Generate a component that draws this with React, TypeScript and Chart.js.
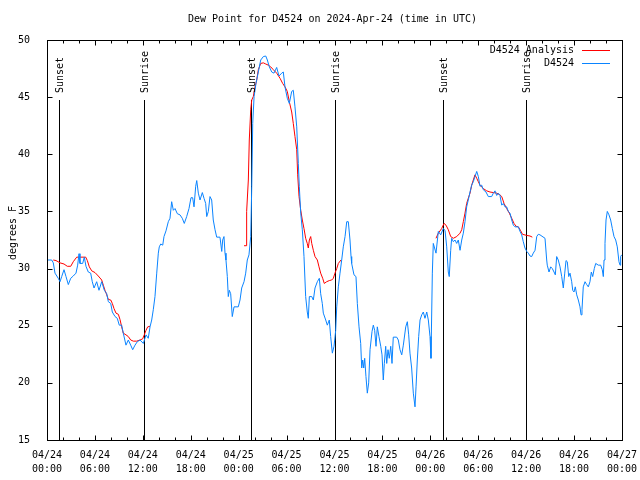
import React, { useEffect, useRef } from "react";
import { Chart, registerables } from "chart.js";

Chart.register(...registerables);

const TITLE = "Dew Point for D4524 on 2024-Apr-24 (time in UTC)";
const Y_TITLE = "degrees F";
const SERIES_ANALYSIS = "D4524 Analysis";
const SERIES_OBS = "D4524";

// x tick labels (every 6 hours from 04/24 00:00 UTC)
const tickDates = ["04/24", "04/24", "04/24", "04/24", "04/25", "04/25", "04/25", "04/25", "04/26", "04/26", "04/26", "04/26", "04/27"];
const tickTimes = ["00:00", "06:00", "12:00", "18:00", "00:00", "06:00", "12:00", "18:00", "00:00", "06:00", "12:00", "18:00", "00:00"];
const yTicks = [15, 20, 25, 30, 35, 40, 45, 50];

// sunrise / sunset markers (hours since 04/24 00:00 UTC)
const eventHours = [1.5, 12.1, 25.5, 36.0, 49.6, 60.0];
const eventNames = ["Sunset", "Sunrise", "Sunset", "Sunrise", "Sunset", "Sunrise"];
const eventTopValue = 44.75;

// observed dew point (hours since start, deg F)
const obsHours = [
  0.04, 0.59, 0.79, 1.0, 1.41, 1.63, 1.84, 2.13, 2.38, 2.67, 2.97, 3.29, 3.63, 3.84, 4.01, 4.13, 4.47, 4.67, 4.88, 5.17,
  5.47, 5.67, 5.89, 6.22, 6.51, 6.85, 7.18, 7.48, 7.68, 7.98, 8.18, 8.52, 8.8, 9.05, 9.35, 9.55, 9.89, 10.18, 10.48, 10.73,
  11.02, 11.31, 11.65, 12.06, 12.4, 12.68, 12.9, 13.11, 13.31, 13.52, 13.74, 13.94, 14.06, 14.24, 14.49, 14.65, 14.9, 15.19, 15.4, 15.61,
  15.82, 16.03, 16.32, 16.65, 16.94, 17.19, 17.49, 17.78, 18.03, 18.24, 18.41, 18.62, 18.75, 18.95, 19.16, 19.45, 19.66, 19.87, 20.0, 20.2,
  20.41, 20.62, 20.82, 21.04, 21.25, 21.66, 21.88, 22.0, 22.16, 22.29, 22.41, 22.58, 22.7, 22.83, 23.0, 23.2, 23.42, 23.95, 24.17, 24.38,
  24.67, 24.88, 25.08, 25.29, 25.51, 25.64, 25.76, 25.93, 26.17, 26.46, 26.76, 27.09, 27.39, 27.59, 27.84, 28.14, 28.42, 28.76, 29.05, 29.39,
  29.59, 29.8, 30.09, 30.34, 30.64, 30.84, 31.05, 31.27, 31.47, 31.59, 31.77, 31.97, 32.18, 32.39, 32.59, 32.72, 32.85, 33.15, 33.35, 33.56,
  33.85, 34.1, 34.27, 34.47, 34.6, 34.9, 35.1, 35.35, 35.52, 35.73, 35.94, 36.15, 36.28, 36.48, 36.69, 36.9, 37.1, 37.32, 37.53, 37.73,
  37.94, 38.07, 38.15, 38.44, 38.69, 38.86, 39.07, 39.28, 39.41, 39.53, 39.66, 39.78, 39.94, 40.11, 40.28, 40.45, 40.7, 40.86, 41.03, 41.2,
  41.36, 41.57, 41.79, 41.95, 42.11, 42.24, 42.41, 42.54, 42.7, 42.86, 43.04, 43.2, 43.36, 43.79, 43.99, 44.2, 44.42, 44.62, 44.92, 45.12,
  45.29, 45.45, 45.66, 45.87, 46.08, 46.21, 46.37, 46.54, 46.71, 46.92, 47.12, 47.33, 47.55, 47.75, 47.96, 48.08, 48.25, 48.37, 48.71, 49.0,
  49.3, 49.62, 49.84, 50.05, 50.25, 50.37, 50.55, 50.67, 50.88, 51.09, 51.3, 51.5, 51.72, 51.93, 52.13, 52.34, 52.55, 52.75, 52.97, 53.18,
  53.38, 53.59, 53.81, 54.01, 54.22, 54.43, 54.63, 54.97, 55.26, 55.68, 55.89, 56.1, 56.31, 56.51, 56.72, 56.94, 57.14, 57.35, 57.56, 57.76,
  57.98, 58.19, 58.39, 58.6, 59.02, 59.23, 59.44, 59.64, 59.85, 60.07, 60.27, 60.48, 60.69, 60.89, 61.11, 61.32, 61.52, 61.73, 62.36, 62.57,
  62.64, 62.86, 63.07, 63.27, 63.49, 63.65, 63.82, 64.02, 64.24, 64.45, 64.65, 64.83, 64.99, 65.15, 65.33, 65.49, 65.7, 65.83, 65.99, 66.15,
  66.33, 66.53, 66.74, 66.87, 66.99, 67.15, 67.37, 67.58, 67.78, 67.99, 68.16, 68.33, 68.53, 68.71, 69.03, 69.33, 69.53, 69.66, 69.75, 69.87,
  70.0, 70.16, 70.37, 70.58, 70.79, 71.0, 71.21, 71.41, 71.62, 71.75, 71.83, 71.96
];
const obsDew = [
  30.75, 30.75, 30.5, 29.6, 29.15, 28.85, 29.3, 29.9, 29.3, 28.6, 29.15, 29.35, 29.6, 30.3, 31.3, 30.45, 30.45, 31.0, 30.2, 29.7,
  29.6, 28.85, 28.3, 28.85, 28.1, 28.85, 28.1, 27.8, 27.1, 26.95, 26.2, 25.8, 25.65, 25.05, 25.05, 24.35, 23.3, 23.75, 23.3, 22.9,
  23.3, 23.6, 23.75, 23.45, 24.2, 23.9, 24.9, 25.5, 26.4, 27.55, 29.6, 31.35, 31.9, 32.15, 32.05, 32.8, 33.3, 34.1, 34.4, 35.85,
  35.1, 35.25, 34.8, 34.7, 34.4, 33.95, 34.55, 35.25, 36.2, 36.2, 35.4, 37.2, 37.7, 36.6, 36.0, 36.65, 36.15, 35.7, 34.55, 35.0,
  36.3, 36.0, 34.25, 33.4, 32.75, 32.75, 31.5, 32.5, 32.8, 31.35, 30.75, 29.3, 27.55, 28.1, 27.8, 25.8, 26.65, 26.65, 27.25, 28.3,
  28.85, 29.6, 30.75, 31.2, 32.8, 37.2, 42.7, 45.05, 46.2, 47.2, 48.25, 48.55, 48.6, 48.25, 47.65, 47.2, 47.1, 47.6, 46.85, 47.1,
  47.2, 45.9, 44.9, 44.45, 45.5, 45.6, 44.15, 42.4, 39.2, 37.2, 34.85, 33.4, 31.05, 27.55, 26.2, 25.65, 27.55, 27.55, 27.25, 28.3,
  28.85, 29.15, 27.8, 26.95, 26.1, 25.5, 25.05, 25.5, 24.05, 22.6, 23.2, 24.6, 26.65, 28.4, 29.6, 30.75, 31.9, 32.8, 34.1, 34.1,
  32.5, 31.05, 30.45, 29.45, 29.3, 26.95, 24.9, 23.45, 21.3, 22.0, 21.3, 22.15, 20.55, 19.1, 20.0, 22.9, 24.5, 25.05, 24.6, 23.2,
  24.9, 24.05, 23.2, 22.45, 20.25, 21.7, 23.2, 21.7, 22.9, 22.15, 23.2, 21.7, 24.0, 24.0, 23.75, 22.9, 22.45, 23.3, 24.9, 25.35,
  24.2, 22.6, 21.3, 19.1, 17.9, 19.65, 22.0, 24.05, 25.5, 25.95, 26.2, 25.65, 26.2, 25.5, 24.05, 22.15, 29.6, 32.2, 31.35, 33.25,
  32.95, 33.5, 33.35, 31.9, 29.7, 29.3, 31.6, 32.65, 32.35, 32.5, 32.2, 32.5, 31.6, 32.5, 33.1, 34.1, 35.4, 36.0, 36.7, 37.3,
  37.6, 38.05, 38.5, 38.05, 37.2, 37.3, 36.9, 36.7, 36.3, 36.3, 36.6, 36.8, 36.4, 36.6, 36.4, 35.55, 35.7, 35.4, 35.4, 35.0,
  34.85, 34.25, 33.8, 33.65, 33.65, 33.25, 32.95, 32.35, 31.8, 31.5, 31.35, 31.1, 31.05, 31.35, 31.6, 32.8, 33.0, 32.95, 32.65, 30.75,
  30.3, 29.7, 30.15, 30.0, 29.7, 29.45, 31.05, 30.75, 30.15, 29.3, 28.3, 29.6, 30.7, 30.6, 29.3, 29.6, 28.85, 28.1, 27.95, 28.4,
  27.7, 27.25, 26.65, 25.95, 26.4, 28.4, 28.85, 28.6, 28.4, 28.85, 29.7, 29.3, 30.0, 30.45, 30.3, 30.3, 29.9, 29.3, 30.75, 32.2,
  34.25, 35.0, 34.7, 34.25, 33.5, 32.8, 32.5, 31.9, 30.6, 30.3, 31.05, 31.2
];

// analysis dew point (null marks a gap between analysis runs)
const anaHours = [
  0.79, 1.13, 1.63, 2.13, 2.54, 2.97, 3.29, 3.72, 4.85, 5.05, 5.3, 5.6, 6.01, 6.42, 6.85, 7.05, 7.26, 7.48, 7.68, 7.98,
  8.18, 8.39, 8.64, 8.93, 9.14, 9.35, 9.55, 9.89, 10.18, 10.48, 10.81, 11.23, 11.65, 11.98, 12.18, 12.4, 12.61, 12.9,
  18.0,
  24.67, 24.92, 25.0, 25.21, 25.33, 25.51, 25.64, 25.83, 26.05, 26.26, 26.46, 26.76, 27.09, 27.39, 27.71, 28.01, 28.34, 28.76, 29.18, 29.51,
  29.8, 30.09, 30.34, 30.64, 30.84, 31.05, 31.27, 31.39, 31.56, 31.77, 31.97, 32.18, 32.39, 32.59, 32.72, 32.85, 33.02, 33.15, 33.35, 33.56,
  33.85, 34.06, 34.27, 34.52, 34.72, 35.02, 35.35, 35.65, 35.85, 36.06, 36.28, 36.48, 36.81,
  42.0,
  48.71, 49.0, 49.42, 49.71, 49.96, 50.25, 50.55, 50.88, 51.3, 51.72, 51.93, 52.13, 52.34, 52.55, 52.75, 52.97, 53.18, 53.38, 53.59, 53.81,
  54.01, 54.22, 54.63, 55.06, 55.47, 55.89, 56.31, 56.72, 56.94, 57.23, 57.56, 57.89, 58.19, 58.48, 58.73, 59.02, 59.32, 59.54, 60.07, 60.48,
  60.77
];
const anaDew = [
  30.75, 30.7, 30.5, 30.4, 30.2, 30.2, 30.6, 31.0, 31.0, 30.7, 30.15, 29.8, 29.65, 29.35, 29.0, 28.55, 28.1, 27.7, 27.3, 27.25,
  26.95, 26.5, 26.1, 26.0, 25.55, 24.9, 24.35, 24.2, 24.05, 23.75, 23.65, 23.65, 23.75, 23.85, 24.2, 24.6, 24.9, 24.95,
  null,
  32.0, 32.0, 35.0, 37.75, 41.25, 43.9, 44.75, 45.05, 45.9, 46.5, 47.4, 47.95, 48.0, 47.9, 47.8, 47.65, 47.4, 47.1, 46.65, 46.2,
  45.9, 45.5, 44.6, 43.7, 42.7, 41.55, 40.4, 38.2, 36.3, 35.1, 34.25, 33.5, 32.65, 32.2, 31.8, 32.5, 32.8, 32.2, 31.6, 31.05,
  30.75, 30.15, 29.6, 29.15, 28.7, 28.85, 28.95, 29.0, 29.15, 29.6, 30.0, 30.45, 30.75,
  null,
  32.65, 33.1, 33.5, 33.95, 33.8, 33.4, 32.8, 32.65, 32.8, 33.1, 33.4, 34.1, 34.85, 35.7, 36.15, 36.6, 37.3, 37.75, 38.2, 37.9,
  37.6, 37.3, 37.0, 36.8, 36.7, 36.65, 36.6, 36.45, 36.3, 35.7, 35.25, 34.85, 34.4, 33.95, 33.7, 33.65, 33.3, 33.0, 32.9, 32.85,
  32.75
];

const BLUE = "#0a84ff";
const RED = "#ff0000";
const FONT = "'DejaVu Sans Mono', monospace";

const decorPlugin = {
  id: "gnuplotDecor",
  beforeDraw(chart: any) {
    const ctx = chart.ctx;
    ctx.save();
    ctx.fillStyle = "#ffffff";
    ctx.fillRect(0, 0, chart.width, chart.height);
    ctx.restore();
  },
  beforeDatasetsDraw(chart: any) {
    const ctx = chart.ctx;
    const xs = chart.scales.x;
    const ys = chart.scales.y;
    const area = chart.chartArea;
    ctx.save();
    ctx.strokeStyle = "#000000";
    ctx.lineWidth = 1;
    const top = ys.getPixelForValue(eventTopValue);
    eventHours.forEach((h) => {
      const px = Math.round(xs.getPixelForValue(h)) + 0.5;
      ctx.beginPath();
      ctx.moveTo(px, area.bottom);
      ctx.lineTo(px, top);
      ctx.stroke();
    });
    ctx.restore();
  },
  afterDraw(chart: any) {
    const ctx = chart.ctx;
    const xs = chart.scales.x;
    const ys = chart.scales.y;
    const a = chart.chartArea;
    ctx.save();
    ctx.strokeStyle = "#000000";
    ctx.lineWidth = 1;
    // border
    const L = Math.round(a.left) + 0.5;
    const R = Math.round(a.right) + 0.5;
    const T = Math.round(a.top) + 0.5;
    const B = Math.round(a.bottom) + 0.5;
    ctx.strokeRect(L, T, R - L, B - T);
    // x ticks (inward, every 2 hours, bottom and top)
    for (let h = 0; h <= 72; h += 2) {
      const px = Math.round(xs.getPixelForValue(h)) + 0.5;
      const len = h % 6 === 0 ? 5 : 3;
      ctx.beginPath();
      ctx.moveTo(px, B);
      ctx.lineTo(px, B - len);
      ctx.moveTo(px, T);
      ctx.lineTo(px, T + len);
      ctx.stroke();
    }
    // y ticks (inward, left and right)
    yTicks.forEach((v) => {
      const py = Math.round(ys.getPixelForValue(v)) + 0.5;
      ctx.beginPath();
      ctx.moveTo(L, py);
      ctx.lineTo(L + 5, py);
      ctx.moveTo(R, py);
      ctx.lineTo(R - 5, py);
      ctx.stroke();
    });
    ctx.fillStyle = "#000000";
    ctx.font = "10px " + FONT;
    // title
    ctx.textAlign = "center";
    ctx.textBaseline = "middle";
    ctx.fillText(TITLE, (a.left + a.right) / 2 - 2, 19);
    // y title
    ctx.save();
    ctx.translate(13, 233);
    ctx.rotate(-Math.PI / 2);
    ctx.fillText(Y_TITLE, 0, 0);
    ctx.restore();
    // event labels
    const top = ys.getPixelForValue(eventTopValue);
    eventHours.forEach((h, i) => {
      const px = Math.round(xs.getPixelForValue(h)) + 1;
      ctx.save();
      ctx.translate(px, top - 7);
      ctx.rotate(-Math.PI / 2);
      ctx.textAlign = "left";
      ctx.textBaseline = "middle";
      ctx.fillText(eventNames[i], 0, 0);
      ctx.restore();
    });
    // legend
    const rows = [
      { label: SERIES_ANALYSIS, color: RED },
      { label: SERIES_OBS, color: BLUE },
    ];
    rows.forEach((r, i) => {
      const y = a.top + 10 + i * 13;
      ctx.textAlign = "right";
      ctx.textBaseline = "middle";
      ctx.fillStyle = "#000000";
      ctx.fillText(r.label, a.right - 48, y);
      ctx.strokeStyle = r.color;
      ctx.beginPath();
      ctx.moveTo(a.right - 40, Math.round(y) + 0.5);
      ctx.lineTo(a.right - 12, Math.round(y) + 0.5);
      ctx.stroke();
    });
    ctx.restore();
  },
};

export default function App() {
  const canvasRef = useRef<HTMLCanvasElement | null>(null);

  useEffect(() => {
    const canvas = canvasRef.current;
    if (!canvas) return;
    const chart = new Chart(canvas, {
      type: "line",
      data: {
        datasets: [
          {
            label: SERIES_OBS,
            data: obsHours.map((h, i) => ({ x: h, y: obsDew[i] })),
            borderColor: BLUE,
            borderWidth: 1,
            pointRadius: 0,
            tension: 0,
            fill: false,
          },
          {
            label: SERIES_ANALYSIS,
            data: anaHours.map((h, i) => ({ x: h, y: anaDew[i] })),
            borderColor: RED,
            borderWidth: 1,
            pointRadius: 0,
            tension: 0,
            fill: false,
            spanGaps: false,
          },
        ],
      },
      options: {
        animation: false,
        responsive: false,
        devicePixelRatio: 1,
        layout: { padding: { top: 40, right: 18, left: 0, bottom: 0 } },
        plugins: {
          legend: { display: false },
          title: { display: false },
          tooltip: { enabled: false },
        },
        scales: {
          x: {
            type: "linear",
            min: 0,
            max: 72,
            grid: { display: false },
            border: { display: false },
            afterFit: (s: any) => {
              s.height = 40;
              s.paddingLeft = 0;
              s.paddingRight = 0;
            },
            afterBuildTicks: (s: any) => {
              s.ticks = tickDates.map((_, i) => ({ value: i * 6 }));
            },
            ticks: {
              autoSkip: false,
              maxRotation: 0,
              minRotation: 0,
              padding: 0,
              color: "#000000",
              font: { family: FONT, size: 10, lineHeight: 1.4 },
              callback: (v: any) => {
                const i = Math.round(Number(v) / 6);
                return [tickDates[i], tickTimes[i]];
              },
            },
          },
          y: {
            type: "linear",
            min: 15,
            max: 50,
            grid: { display: false },
            border: { display: false },
            afterFit: (s: any) => {
              s.width = 47;
              s.paddingTop = 0;
              s.paddingBottom = 0;
            },
            ticks: {
              stepSize: 5,
              padding: 9,
              color: "#000000",
              font: { family: FONT, size: 10 },
            },
          },
        },
      },
      plugins: [decorPlugin],
    });
    return () => chart.destroy();
  }, []);

  return (
    <div style={{ position: "fixed", left: 0, top: 0, width: 640, height: 480, background: "#fff" }}>
      <canvas ref={canvasRef} width={640} height={480} style={{ display: "block", width: 640, height: 480 }} />
    </div>
  );
}
